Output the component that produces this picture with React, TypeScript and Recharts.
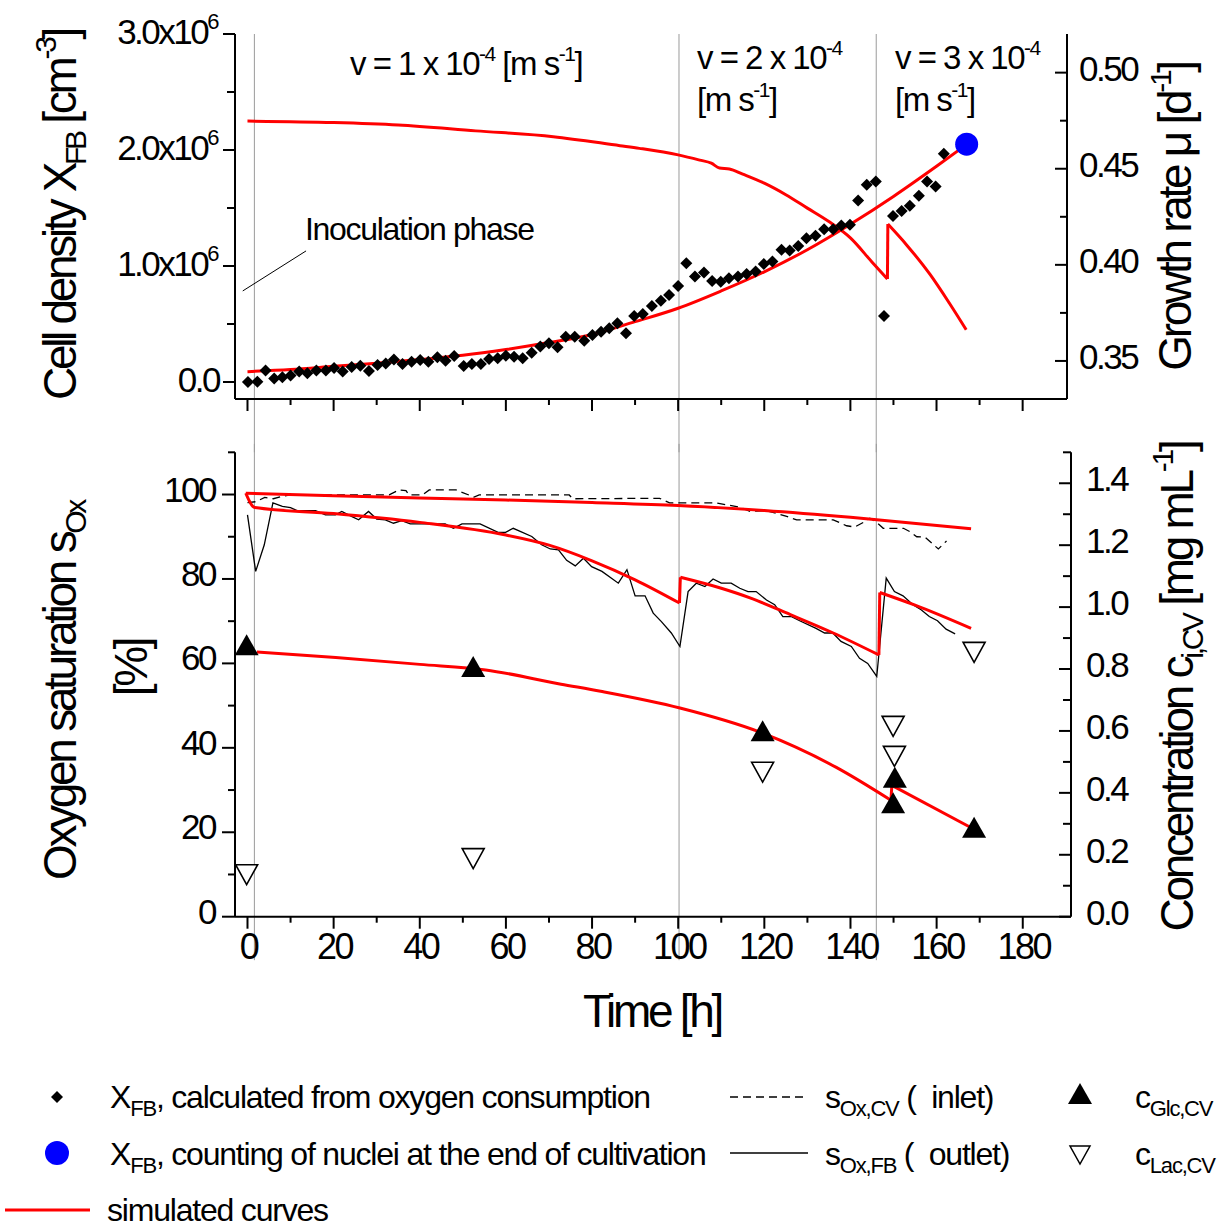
import React from 'react';
import { ComposedChart, Line, Scatter, XAxis, YAxis, ReferenceLine } from 'recharts';

const FONT = '"Liberation Sans", Arial, Helvetica, sans-serif';
const RED = '#ff0000';
const GRAY = '#9a9a9a';

type Pair = [number, number];

// ---------- axes / ticks ----------
const timeTicks = [0, 10, 20, 30, 40, 50, 60, 70, 80, 90, 100, 110, 120, 130, 140, 150, 160, 170, 180];
const densityTicks = [0, 0.5, 1, 1.5, 2, 2.5, 3];
const growthTicks = [0.35, 0.375, 0.4, 0.425, 0.45, 0.475, 0.5];
const oxygenTicks = [0, 10, 20, 30, 40, 50, 60, 70, 80, 90, 100, 110];
const concTicks = [0, 0.1, 0.2, 0.3, 0.4, 0.5, 0.6, 0.7, 0.8, 0.9, 1.0, 1.1, 1.2, 1.3, 1.4, 1.5];
const phaseChangeTimes = [1.6, 100.2, 146.0];

// ---------- top panel data (time h, cell density 1e6 cm^-3 / growth rate d^-1) ----------
const xfbCalculated: Pair[] = [
  [0.1, 0.0], [2.3, 0.003], [4.2, 0.1], [6.2, 0.03], [8.1, 0.04], [10.0, 0.055], [12.0, 0.09], [13.9, 0.075],
  [16.0, 0.1], [18.2, 0.1], [20.1, 0.12], [22.1, 0.09], [24.2, 0.13], [26.2, 0.14], [28.2, 0.095], [30.2, 0.147],
  [32.1, 0.16], [34.0, 0.195], [36.0, 0.155], [38.1, 0.175], [40.1, 0.19], [42.0, 0.175], [44.1, 0.213],
  [46.0, 0.184], [48.0, 0.224], [50.2, 0.138], [52.1, 0.155], [54.2, 0.155], [56.1, 0.198], [58.1, 0.204],
  [60.0, 0.227], [61.9, 0.218], [63.9, 0.204], [66.0, 0.253], [68.0, 0.305], [70.0, 0.334], [72.0, 0.3],
  [73.9, 0.39], [76.0, 0.39], [78.2, 0.356], [80.1, 0.406], [82.1, 0.434], [84.0, 0.463], [85.9, 0.506],
  [87.9, 0.42], [89.8, 0.57], [91.8, 0.587], [93.9, 0.656], [96.0, 0.7], [97.9, 0.75], [100.0, 0.828],
  [101.9, 1.024], [103.9, 0.909], [106.0, 0.943], [107.9, 0.871], [109.9, 0.865], [111.8, 0.895], [113.9, 0.909],
  [115.9, 0.932], [118.0, 0.952], [119.9, 1.018], [121.9, 1.038], [124.0, 1.139], [125.9, 1.133], [127.9, 1.173],
  [129.8, 1.24], [131.9, 1.26], [133.9, 1.317], [136.0, 1.317], [137.9, 1.349], [139.9, 1.355], [141.8, 1.564],
  [143.8, 1.7], [145.9, 1.728], [147.8, 0.569], [149.9, 1.432], [151.9, 1.475], [153.8, 1.519], [155.9, 1.605],
  [157.8, 1.728], [159.8, 1.685], [161.7, 1.967],
];
const xfbCounted: Pair[] = [[167.0, 2.05]];
const xfbSimulated: Pair[] = [
  [0, 0.089], [10, 0.108], [20, 0.135], [30, 0.162], [40, 0.193], [50, 0.23], [60, 0.28], [70, 0.34],
  [80, 0.41], [90, 0.52], [100, 0.636], [110, 0.785], [120, 0.95], [130, 1.14], [140, 1.36], [150, 1.6],
  [160, 1.86], [166.7, 2.04],
];
const growthSimulated: Pair[] = [
  [0, 0.4748], [20, 0.474], [35, 0.4727], [53, 0.4697], [71, 0.4667], [86.5, 0.462], [91, 0.4606], [100, 0.4572],
  [105, 0.4545], [107.7, 0.4529], [109.6, 0.4504], [111.9, 0.4499], [115, 0.4472], [120, 0.4425], [125, 0.4365],
  [130, 0.4295], [135, 0.4225], [140, 0.414], [145, 0.4015], [148.6, 0.3926], [148.7, 0.4212], [153, 0.4105],
  [158.5, 0.395], [163, 0.38], [166.9, 0.3662],
];

// ---------- bottom panel data (time h, oxygen saturation % / concentration mg mL^-1) ----------
const inletMeasured: Pair[] = [
  [0, 98.1], [2, 98.3], [4, 99.3], [6, 99.0], [8, 99.6], [10, 99.9], [32.9, 99.9], [35.2, 101.1], [36.8, 100.9],
  [37.5, 99.9], [40.6, 99.9], [42.2, 101.1], [48.4, 101.1], [52.6, 99.4], [53.8, 99.9], [74.7, 99.9], [75.5, 99.0],
  [95.7, 99.1], [98, 98], [108.9, 98], [114.3, 97], [116.7, 96], [120.5, 96.2], [125.2, 94.8], [127.5, 94],
  [136, 94], [139.1, 92.6], [141, 92.3], [143, 93.4], [144.5, 94.4], [146.1, 93.4], [147.6, 92], [152.3, 92],
  [153.8, 91.2], [155.4, 90], [157.3, 89.9], [160.4, 87.1], [162.3, 89],
];
const outletMeasured: Pair[] = [
  [0, 95.2], [1.9, 81.8], [3.9, 88.1], [5.9, 98], [8.1, 97.2], [10, 96.9], [11.5, 96.2], [15.8, 96.2], [18.1, 95.2],
  [20.4, 95.2], [21.9, 96], [23.9, 94.95], [25.8, 94], [28.1, 96], [30, 94.2], [32, 94], [33.9, 93.2], [35.8, 93.8],
  [37.8, 93.05], [45.9, 93.05], [47.8, 92], [49.8, 93.05], [54, 93.05], [58.3, 91], [59.8, 91], [61.7, 92],
  [66, 90.05], [68.3, 88.1], [70.3, 87.1], [72.2, 86.9], [74.1, 84.4], [76.1, 83.1], [78, 84.9], [79.9, 82.9],
  [82.3, 81.8], [86.1, 79], [88.1, 82.2], [90, 76], [92.3, 76], [94.2, 71.9], [96.1, 69.9], [98.4, 67.2],
  [100.4, 64], [102.3, 77], [104.2, 79], [106.2, 78.2], [108.1, 80], [110, 79], [112.3, 79], [114.3, 77.8],
  [116.2, 77], [118.1, 77], [120.5, 75], [122.4, 73.9], [124.3, 71.1], [126.2, 71.1], [128.2, 70.1], [132, 68.3],
  [134, 67.2], [135.9, 67.2], [137.8, 65.2], [140.2, 64], [142.1, 61.2], [144, 60], [146.1, 56.9], [148.3, 80.2],
  [150.2, 77], [152.2, 76], [154.5, 73.9], [156.4, 72.7], [158.3, 71.1], [160.2, 70.1], [162.2, 68.1], [164.3, 67],
];
const inletSimulated: Pair[] = [
  [-0.4, 100.3], [20, 99.7], [40, 99.2], [60, 98.7], [80, 98.1], [100, 97.4], [120, 96.2], [140, 94.6], [168, 91.9],
];
const outletSimulated: Pair[] = [
  [-0.4, 100.3], [1.7, 96.9], [20, 95.5], [40, 93.4], [60, 90.4], [70, 88.0], [80, 84.3], [90, 79.8], [100.3, 74.3],
  [100.5, 80.4], [110, 77.8], [117, 75.4], [125, 72.0], [136, 67.2], [146.6, 62.0], [146.8, 76.8], [155, 73.8],
  [168, 68.3],
];
const glucoseMeasured: Pair[] = [
  [-0.2, 0.867], [52.4, 0.797], [119.6, 0.589], [150.3, 0.439], [149.9, 0.357], [168.7, 0.278],
];
const lactateMeasured: Pair[] = [
  [-0.2, 0.147], [52.4, 0.199], [119.6, 0.478], [149.9, 0.626], [150.2, 0.529], [168.7, 0.865],
];
const glucoseSimulated: Pair[] = [
  [2.2, 0.855], [20.5, 0.837], [40, 0.815], [55.3, 0.797], [72.8, 0.751], [82, 0.728], [100.4, 0.674],
  [119, 0.596], [136.6, 0.483], [149.4, 0.376], [149.6, 0.424], [168.9, 0.281],
];

const toPoints = (pairs: Pair[]) => pairs.map(([t, y]) => ({ t, y }));

// split a simulated curve at its step changes (consecutive times closer than 0.5 h)
function splitAtSteps(pairs: Pair[]) {
  const segs: Pair[][] = [[pairs[0]]];
  const steps: Pair[][] = [];
  for (let i = 1; i < pairs.length; i++) {
    if (pairs[i][0] - pairs[i - 1][0] < 0.5) {
      steps.push([pairs[i - 1], pairs[i]]);
      segs.push([pairs[i]]);
    } else {
      segs[segs.length - 1].push(pairs[i]);
    }
  }
  return { segs, steps };
}

function simLines(name: string, pairs: Pair[], yAxisId: string) {
  const { segs, steps } = splitAtSteps(pairs);
  const out: React.ReactElement[] = [];
  segs.forEach((s, i) =>
    out.push(
      <Line key={`${name}-s${i}`} xAxisId="t" yAxisId={yAxisId} data={toPoints(s)} dataKey="y" type="monotone"
        stroke={RED} strokeWidth={3} dot={false} activeDot={false} isAnimationActive={false} />
    )
  );
  steps.forEach((s, i) =>
    out.push(
      <Line key={`${name}-j${i}`} xAxisId="t" yAxisId={yAxisId} data={toPoints(s)} dataKey="y" type="linear"
        stroke={RED} strokeWidth={3} dot={false} activeDot={false} isAnimationActive={false} />
    )
  );
  return out;
}

// ---------- tick renderers ----------
const tickText = { fontFamily: FONT, fontSize: 35, letterSpacing: -2.5, fill: '#000' } as const;

function makeXTick(labels: boolean) {
  return (props: any) => {
    const { x, y, payload } = props;
    const v = payload.value as number;
    const major = Math.round(v) % 20 === 0;
    return (
      <g>
        <line x1={x} x2={x} y1={y} y2={y + (major ? 12 : 6)} stroke="#000" strokeWidth={2} />
        {labels && major ? (
          <text x={x + 1} y={y + 42} textAnchor="middle" {...tickText} fontSize={36}>
            {String(v)}
          </text>
        ) : null}
      </g>
    );
  };
}

const densityTick = (props: any) => {
  const { x, y, payload } = props;
  const v = payload.value as number;
  const major = Math.abs(v - Math.round(v)) < 1e-6;
  return (
    <g>
      <line x1={x} x2={x - (major ? 12 : 8)} y1={y} y2={y} stroke="#000" strokeWidth={2} />
      {major ? (
        v === 0 ? (
          <text x={x - 16} y={y + 10} textAnchor="end" {...tickText}>0.0</text>
        ) : (
          <text x={x - 18} y={y + 10} textAnchor="end" {...tickText}>
            {v.toFixed(1)}x10<tspan fontSize={22} dy={-15}>6</tspan>
          </text>
        )
      ) : null}
    </g>
  );
};

const growthTick = (props: any) => {
  const { x, y, payload } = props;
  const v = payload.value as number;
  const major = Math.round(v * 1000) % 50 === 0;
  return (
    <g>
      <line x1={x} x2={x - (major ? 12 : 7)} y1={y} y2={y} stroke="#000" strokeWidth={2} />
      {major ? (
        <text x={x + 12} y={y + 8} textAnchor="start" {...tickText}>{v.toFixed(2)}</text>
      ) : null}
    </g>
  );
};

const oxygenTick = (props: any) => {
  const { x, y, payload } = props;
  const v = payload.value as number;
  const major = Math.round(v) % 20 === 0;
  return (
    <g>
      <line x1={x} x2={x - (major ? 13 : 7)} y1={y} y2={y} stroke="#000" strokeWidth={2} />
      {major ? (
        <text x={x - 20} y={y + 7} textAnchor="end" {...tickText}>{String(v)}</text>
      ) : null}
    </g>
  );
};

const concTick = (props: any) => {
  const { x, y, payload } = props;
  const v = payload.value as number;
  const major = Math.round(v * 10) % 2 === 0;
  return (
    <g>
      <line x1={x} x2={x - (major ? 12 : 8)} y1={y} y2={y} stroke="#000" strokeWidth={2} />
      {major ? (
        <text x={x + 15} y={y + 8} textAnchor="start" {...tickText}>{v.toFixed(1)}</text>
      ) : null}
    </g>
  );
};

// ---------- marker shapes ----------
const Diamond = (props: any) => {
  const { cx, cy } = props;
  const r = 6;
  return <path d={`M${cx},${cy - r}L${cx + r},${cy}L${cx},${cy + r}L${cx - r},${cy}Z`} fill="#000" />;
};
const BlueDot = (props: any) => <circle cx={props.cx} cy={props.cy} r={11.5} fill="#0000ff" />;
const UpTriangle = (props: any) => {
  const { cx, cy } = props;
  return <path d={`M${cx},${cy - 14}L${cx + 12},${cy + 7}L${cx - 12},${cy + 7}Z`} fill="#000" />;
};
const DownTriangle = (props: any) => {
  const { cx, cy } = props;
  return (
    <path d={`M${cx - 11},${cy - 6.5}L${cx + 11},${cy - 6.5}L${cx},${cy + 13.5}Z`} fill="#fff" stroke="#000" strokeWidth={1.6} />
  );
};

const axisLine = { stroke: '#000', strokeWidth: 2 };

function TopPanel() {
  return (
    <ComposedChart width={1223} height={460} margin={{ top: 34, right: 56, bottom: 31, left: 135 }}>
      <XAxis xAxisId="t" dataKey="t" type="number" domain={[-2.9, 190.3]} allowDataOverflow ticks={timeTicks}
        interval={0} tickSize={0} tickMargin={0} tickLine={false} axisLine={axisLine} tick={makeXTick(false)} height={30} />
      <YAxis yAxisId="L" orientation="left" type="number" domain={[-0.1466, 3.0]} allowDataOverflow ticks={densityTicks}
        interval={0} width={100} tickSize={0} tickMargin={0} tickLine={false} axisLine={axisLine} tick={densityTick} />
      <YAxis yAxisId="R" orientation="right" type="number" domain={[0.3302, 0.5201]} allowDataOverflow ticks={growthTicks}
        interval={0} width={100} tickSize={0} tickMargin={0} tickLine={false} axisLine={axisLine} tick={growthTick} />
      {phaseChangeTimes.map((t) => (
        <ReferenceLine key={t} xAxisId="t" yAxisId="L" segment={[{ x: t, y: 3.0 }, { x: t, y: -0.606 }]}
          stroke={GRAY} strokeWidth={1} ifOverflow="visible" />
      ))}
      <ReferenceLine xAxisId="t" yAxisId="L" segment={[{ x: -1.1, y: 0.785 }, { x: 13.6, y: 1.13 }]}
        stroke="#000" strokeWidth={1} ifOverflow="visible" />
      <Scatter xAxisId="t" yAxisId="L" data={toPoints(xfbCalculated)} dataKey="y" shape={Diamond} isAnimationActive={false} />
      {simLines('mu', growthSimulated, 'R')}
      {simLines('xfb', xfbSimulated, 'L')}
      <Scatter xAxisId="t" yAxisId="L" data={toPoints(xfbCounted)} dataKey="y" shape={BlueDot} isAnimationActive={false} />
    </ComposedChart>
  );
}

function BottomPanel() {
  return (
    <ComposedChart width={1223} height={540} margin={{ top: 12.3, right: 52, bottom: 13.3, left: 135 }}>
      <XAxis xAxisId="t" dataKey="t" type="number" domain={[-2.9, 191.2]} allowDataOverflow ticks={timeTicks}
        interval={0} tickSize={0} tickMargin={0} tickLine={false} axisLine={axisLine} tick={makeXTick(true)} height={50} />
      <YAxis yAxisId="L" orientation="left" type="number" domain={[0, 110]} allowDataOverflow ticks={oxygenTicks}
        interval={0} width={100} tickSize={0} tickMargin={0} tickLine={false} axisLine={axisLine} tick={oxygenTick} />
      <YAxis yAxisId="R" orientation="right" type="number" domain={[0, 1.5]} allowDataOverflow ticks={concTicks}
        interval={0} width={100} tickSize={0} tickMargin={0} tickLine={false} axisLine={axisLine} tick={concTick} />
      {phaseChangeTimes.map((t) => (
        <ReferenceLine key={t} xAxisId="t" yAxisId="L" segment={[{ x: t, y: 112 }, { x: t, y: -10.3 }]}
          stroke={GRAY} strokeWidth={1} ifOverflow="visible" />
      ))}
      <Line xAxisId="t" yAxisId="L" data={toPoints(inletMeasured)} dataKey="y" type="linear" stroke="#000"
        strokeWidth={1.3} strokeDasharray="8 5" dot={false} activeDot={false} isAnimationActive={false} />
      <Line xAxisId="t" yAxisId="L" data={toPoints(outletMeasured)} dataKey="y" type="linear" stroke="#000"
        strokeWidth={1.3} dot={false} activeDot={false} isAnimationActive={false} />
      {simLines('inlet', inletSimulated, 'L')}
      {simLines('outlet', outletSimulated, 'L')}
      {simLines('glc', glucoseSimulated, 'R')}
      <Scatter xAxisId="t" yAxisId="R" data={toPoints(glucoseMeasured)} dataKey="y" shape={UpTriangle} isAnimationActive={false} />
      <Scatter xAxisId="t" yAxisId="R" data={toPoints(lactateMeasured)} dataKey="y" shape={DownTriangle} isAnimationActive={false} />
    </ComposedChart>
  );
}

function Overlay() {
  const base = { fontFamily: FONT, fill: '#000', style: { whiteSpace: 'pre' as const } };
  const title = { ...base, fontSize: 46, letterSpacing: -3.3 };
  const note = { ...base, fontSize: 33, letterSpacing: -1.5 };
  const leg = { ...base, fontSize: 32, letterSpacing: -1.2 };
  return (
    <svg width={1223} height={1229} style={{ position: 'absolute', left: 0, top: 0, pointerEvents: 'none' }}>
      {/* axis titles */}
      <text transform="translate(76,215) rotate(-90)" textAnchor="middle" {...title}>
        Cell density X<tspan fontSize={30} dy={10}>FB</tspan><tspan dy={-10}> [cm</tspan>
        <tspan fontSize={30} dy={-20}>-3</tspan><tspan dy={20}>]</tspan>
      </text>
      <text transform="translate(1191,217) rotate(-90)" textAnchor="middle" {...title}>
        Growth rate μ [d<tspan fontSize={30} dy={-20}>-1</tspan><tspan dy={20}>]</tspan>
      </text>
      <text transform="translate(76,691) rotate(-90)" textAnchor="middle" {...title}>
        Oxygen saturation s<tspan fontSize={30} dy={10}>Ox</tspan>
      </text>
      <text transform="translate(147,668) rotate(-90)" textAnchor="middle" {...title}>[%]</text>
      <text transform="translate(1193,687) rotate(-90)" textAnchor="middle" {...title}>
        Concentration c<tspan fontSize={30} dy={10}>i,CV</tspan><tspan dy={-10}> [mg mL</tspan>
        <tspan fontSize={30} dy={-20}>-1</tspan><tspan dy={20}>]</tspan>
      </text>
      <text x={652} y={1027} textAnchor="middle" {...title}>Time [h]</text>

      {/* annotations */}
      <text x={350} y={75} {...note}>
        v = 1 x 10<tspan fontSize={21} dy={-14}>-4</tspan><tspan dy={14}> [m s</tspan>
        <tspan fontSize={21} dy={-14}>-1</tspan><tspan dy={14}>]</tspan>
      </text>
      <text x={697} y={69} {...note}>v = 2 x 10<tspan fontSize={21} dy={-14}>-4</tspan></text>
      <text x={697} y={111} {...note}>[m s<tspan fontSize={21} dy={-14}>-1</tspan><tspan dy={14}>]</tspan></text>
      <text x={895} y={69} {...note}>v = 3 x 10<tspan fontSize={21} dy={-14}>-4</tspan></text>
      <text x={895} y={111} {...note}>[m s<tspan fontSize={21} dy={-14}>-1</tspan><tspan dy={14}>]</tspan></text>
      <text x={305} y={240} {...base} fontSize={32} letterSpacing={-1.3}>Inoculation phase</text>

      {/* legend */}
      <path d="M57,1091L63,1097L57,1103L51,1097Z" fill="#000" />
      <text x={110} y={1108} {...leg}>X<tspan fontSize={22} dy={8}>FB</tspan><tspan dy={-8}>, calculated from oxygen consumption</tspan></text>
      <line x1={730} x2={808} y1={1097} y2={1097} stroke="#000" strokeWidth={1.3} strokeDasharray="8 5" />
      <text x={825} y={1108} {...leg}>s<tspan fontSize={22} dy={8}>Ox,CV</tspan><tspan dy={-8}> (  inlet)</tspan></text>
      <path d="M1080,1083L1092,1104L1068,1104Z" fill="#000" />
      <text x={1135} y={1108} {...leg}>c<tspan fontSize={22} dy={8}>Glc,CV</tspan></text>

      <circle cx={57} cy={1153} r={12} fill="#0000ff" />
      <text x={110} y={1165} {...leg}>X<tspan fontSize={22} dy={8}>FB</tspan><tspan dy={-8}>, counting of nuclei at the end of cultivation</tspan></text>
      <line x1={730} x2={808} y1={1153} y2={1153} stroke="#000" strokeWidth={1.3} />
      <text x={825} y={1165} {...leg}>s<tspan fontSize={22} dy={8}>Ox,FB</tspan><tspan dy={-8}> (  outlet)</tspan></text>
      <path d="M1070,1146L1090,1146L1080,1164Z" fill="#fff" stroke="#000" strokeWidth={1.5} />
      <text x={1135} y={1165} {...leg}>c<tspan fontSize={22} dy={8}>Lac,CV</tspan></text>

      <line x1={5} x2={90} y1={1210} y2={1210} stroke={RED} strokeWidth={3} />
      <text x={107} y={1221} {...leg}>simulated curves</text>
    </svg>
  );
}

export default function App() {
  return (
    <div style={{ position: 'absolute', left: 0, top: 0, width: 1223, height: 1229, background: '#fff' }}>
      <div style={{ position: 'absolute', left: 0, top: 0 }}>
        <TopPanel />
      </div>
      <div style={{ position: 'absolute', left: 0, top: 440 }}>
        <BottomPanel />
      </div>
      <Overlay />
    </div>
  );
}
